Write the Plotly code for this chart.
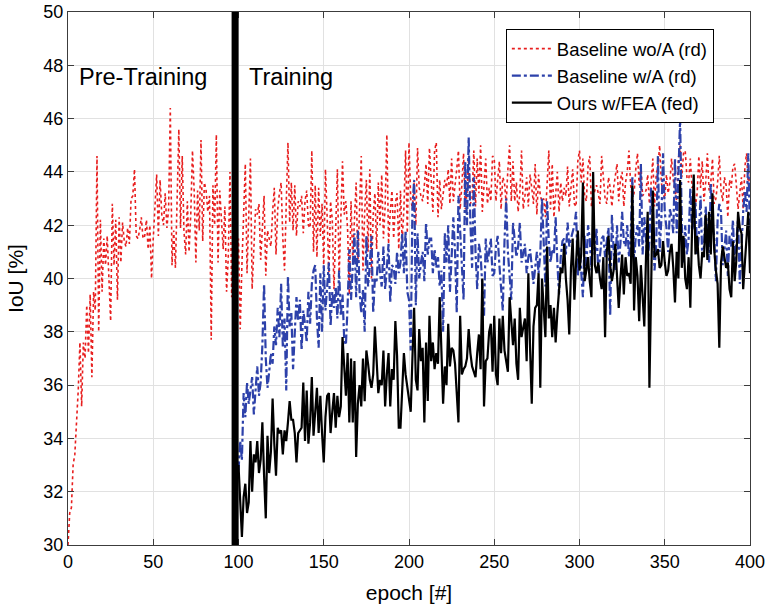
import plotly.graph_objects as go

# ---------------- data ----------------
red_epochs = list(range(0, 401))
red_iou = [
30.0,31.2,31.4,33.0,33.4,34.4,35.8,37.6,35.2,37.6,37.0,39.0,37.2,39.4,36.3,39.5,38.8,44.6,38.0,42.2,
39.5,41.5,40.5,41.6,40.0,38.4,42.8,40.5,42.2,39.2,42.3,40.6,42.1,41.4,41.2,41.9,41.3,43.0,43.1,44.1,
41.6,41.5,41.8,42.3,41.5,41.6,42.2,41.1,42.0,40.0,41.5,42.8,43.9,41.6,43.7,42.4,42.0,43.2,41.9,42.6,
46.4,40.5,41.8,40.4,43.0,45.6,41.9,44.6,41.8,40.9,42.9,41.0,42.4,44.8,43.3,40.6,43.3,41.8,45.2,41.4,
43.6,43.3,42.5,43.1,37.7,43.5,42.0,45.4,40.6,43.3,42.2,41.1,42.7,39.5,40.8,44.0,39.3,42.5,43.6,40.2,
41.5,38.1,40.5,42.8,44.3,40.2,42.6,44.5,39.6,41.5,42.6,42.4,42.8,40.7,42.0,43.1,40.1,41.8,41.5,41.2,
42.5,43.4,40.9,42.6,43.2,43.6,41.5,40.3,42.8,45.1,42.1,43.6,41.8,43.5,41.6,42.9,42.7,43.1,41.7,42.9,
43.3,42.0,41.9,44.8,41.0,43.5,40.8,43.4,41.6,42.8,40.4,44.1,42.3,40.1,42.9,42.2,39.6,41.8,44.1,40.0,
42.6,44.4,42.4,42.9,41.8,39.4,42.9,40.7,42.2,43.6,40.6,42.8,44.6,40.3,42.5,43.7,41.0,44.1,40.0,42.4,
43.2,41.1,43.6,42.0,43.9,41.5,42.7,45.4,41.3,42.5,43.3,41.5,42.8,43.2,41.1,43.3,41.4,42.6,44.8,41.7,
45.1,43.0,42.6,43.6,42.0,44.9,43.4,43.1,42.9,43.5,44.3,42.8,44.9,43.7,42.5,44.8,45.1,42.3,43.7,42.6,
43.2,43.7,43.4,44.1,42.8,44.5,42.9,43.4,44.1,44.8,42.6,43.5,44.7,42.6,43.2,44.6,42.8,43.0,44.8,42.7,
44.5,43.2,45.0,42.5,43.6,44.5,42.8,43.4,42.9,44.6,44.5,42.9,43.7,44.4,42.6,43.8,43.6,42.8,44.1,45.0,
42.9,44.4,42.9,43.6,42.5,43.2,44.8,42.6,43.1,43.8,42.7,43.9,43.4,42.8,44.3,42.4,43.9,43.1,42.9,43.0,
42.3,43.5,44.8,42.6,44.3,42.3,43.2,44.0,42.5,43.6,42.9,43.4,43.1,44.2,42.7,43.6,44.1,42.8,42.7,44.4,
44.8,43.6,44.5,43.1,42.9,44.2,44.6,42.7,43.1,43.3,43.5,43.2,42.8,44.6,43.6,43.0,42.8,43.8,43.4,42.7,
43.4,43.9,44.3,42.9,43.7,44.0,42.7,43.6,44.0,44.8,43.5,43.0,43.2,44.1,44.7,43.5,44.3,43.1,43.2,43.3,
43.9,42.8,43.6,44.5,42.7,43.9,44.2,45.0,43.6,43.2,43.0,43.9,43.2,43.6,44.5,43.7,43.3,42.9,44.5,45.0,
43.8,44.7,44.8,43.8,43.6,44.5,43.4,43.5,42.7,43.2,44.6,43.4,44.4,42.9,43.6,44.7,43.3,43.6,44.5,42.8,
43.0,43.6,44.6,43.3,42.9,43.8,43.5,42.3,43.7,43.4,44.2,44.3,43.5,42.6,43.2,43.8,42.6,44.2,44.7,43.5,
43.9]

train_epochs = list(range(100, 401))
blue_iou = [
32.8,33.9,33.2,35.7,34.8,36.1,35.3,35.8,36.3,34.9,36.0,36.7,35.6,36.1,37.5,39.8,37.0,35.9,36.5,37.2,
36.8,38.2,37.5,38.9,37.8,39.8,37.4,38.5,35.8,40.1,38.2,38.7,36.6,38.0,39.3,38.4,39.2,37.3,38.8,38.3,
37.6,39.5,38.3,39.8,40.3,40.5,38.5,37.4,40.2,38.0,40.5,38.8,39.6,40.6,38.2,39.5,38.9,39.7,38.5,40.3,
38.6,39.4,37.7,37.5,39.0,41.1,39.2,40.4,41.7,39.3,41.8,39.5,38.7,39.6,38.0,41.6,39.7,40.5,41.6,38.7,
40.0,39.9,41.0,40.2,39.7,41.2,39.6,40.4,41.3,39.1,40.5,40.4,39.8,41.0,40.2,40.6,41.7,40.2,41.8,39.5,
39.2,37.3,42.6,43.7,39.0,41.7,40.0,40.6,41.0,39.9,42.1,40.9,41.5,41.5,40.2,41.1,40.4,40.8,39.7,40.3,
38.0,41.7,40.6,42.0,39.5,40.8,42.3,41.0,38.7,43.1,41.7,40.1,39.2,44.4,42.0,45.3,42.1,40.4,43.8,41.0,
39.6,41.3,40.9,39.7,38.6,41.5,40.6,41.0,41.5,40.1,40.2,41.2,41.6,40.5,39.6,38.8,41.4,43.0,41.0,40.2,
39.2,42.1,41.4,40.8,41.2,42.1,40.6,41.0,41.3,40.2,40.8,41.1,40.4,39.8,40.4,41.0,40.2,40.9,43.0,41.6,
39.7,42.9,41.4,40.6,41.1,40.9,42.3,40.6,39.4,40.8,41.4,41.5,40.9,42.1,41.2,41.5,41.8,42.0,42.5,40.1,
41.2,40.4,39.3,41.6,40.3,42.0,41.5,40.3,41.7,40.9,41.9,40.2,41.0,41.5,41.6,40.8,41.4,41.9,38.6,42.4,
41.1,40.3,42.0,40.6,41.3,42.5,41.4,41.2,42.0,40.8,41.5,43.8,40.6,41.6,42.0,41.2,44.3,40.9,42.3,41.6,
40.7,41.4,43.4,42.1,40.3,41.3,44.6,41.0,42.2,44.7,42.5,41.9,41.0,42.6,42.3,41.7,44.5,41.7,43.5,46.0,
42.0,40.6,42.0,40.9,41.5,43.4,41.8,42.1,42.9,40.9,41.6,43.1,40.8,41.2,42.7,41.7,40.6,43.6,42.0,41.6,
39.9,42.2,42.8,42.5,40.5,41.1,41.8,40.1,41.6,41.2,42.2,40.4,41.5,42.3,39.8,41.4,42.5,43.3,42.5,44.7,
41.5]

black_iou = [
33.0,31.4,30.3,31.8,32.3,31.2,31.6,33.9,32.0,33.4,33.1,33.9,32.7,33.2,34.6,32.6,31.0,34.1,32.7,33.5,
35.5,33.8,32.6,34.4,34.2,34.3,33.4,34.3,33.9,34.6,35.4,34.7,34.7,34.2,33.1,34.2,34.3,34.4,36.1,33.9,
35.8,33.8,34.6,36.3,34.1,35.2,35.9,34.2,35.6,34.2,33.1,34.8,35.6,35.7,34.2,35.0,35.7,34.4,35.6,34.8,
35.2,37.8,36.6,35.6,37.2,34.6,37.0,34.6,36.9,33.3,35.3,36.0,35.2,37.0,35.4,37.3,36.8,36.2,35.9,36.4,
38.2,36.9,35.7,36.2,36.0,37.3,35.2,36.4,37.2,35.2,36.6,36.2,38.4,37.1,34.4,34.4,36.0,37.2,36.4,35.9,
35.4,35.0,37.0,38.9,36.2,35.8,38.1,36.9,37.4,34.6,37.6,35.4,38.6,36.9,37.6,36.6,37.2,36.8,39.3,36.9,
35.3,36.7,36.0,38.3,36.7,37.4,37.3,36.8,35.8,34.6,38.6,36.4,36.6,36.7,37.0,38.1,37.2,36.7,36.5,36.3,
37.2,37.9,36.6,40.0,35.2,36.9,37.0,38.0,38.3,36.5,38.6,36.4,36.0,38.5,37.2,38.6,37.3,36.8,36.5,39.3,
38.3,37.5,38.5,36.8,36.2,38.9,37.8,38.2,38.5,36.9,40.2,37.4,35.3,38.2,38.9,39.0,40.2,35.9,40.0,38.9,
37.8,41.2,38.5,39.0,37.8,38.9,37.6,38.7,39.4,40.4,40.2,41.3,40.0,39.2,37.9,40.4,41.5,39.2,40.6,41.8,
40.3,40.9,43.6,39.9,40.3,40.8,39.9,39.3,44.0,40.5,40.2,40.6,40.0,39.6,40.8,37.8,41.0,41.6,40.5,39.9,
40.3,41.3,40.1,38.9,40.0,40.9,39.4,40.8,40.1,40.2,39.8,43.5,38.8,40.8,40.1,38.4,40.5,39.5,38.2,40.8,
42.5,35.9,40.2,43.3,40.8,40.9,41.1,40.4,40.5,41.4,40.6,40.1,40.3,41.0,41.3,40.4,39.1,41.0,40.0,43.7,
40.4,41.6,40.0,39.6,40.8,38.9,41.8,43.9,40.9,41.6,40.5,40.0,41.0,40.8,42.4,40.7,42.5,40.9,43.2,41.1,
40.3,39.8,37.4,40.6,41.2,40.7,40.4,40.6,39.6,39.3,41.4,39.9,40.7,42.5,41.9,41.7,39.6,40.6,41.6,42.5,
40.2]

series_names = ["Baseline wo/A (rd)", "Baseline w/A (rd)", "Ours w/FEA (fed)"]
phase_boundary = 98
phase_labels = ["Pre-Training", "Training"]
x_ticks = [0, 50, 100, 150, 200, 250, 300, 350, 400]
y_ticks = [30, 32, 34, 36, 38, 40, 42, 44, 46, 48, 50]

FONT = "Liberation Sans, Arial, Helvetica, sans-serif"

fig = go.Figure()
fig.add_trace(go.Scatter(x=red_epochs, y=red_iou, mode="lines", name=series_names[0],
                         line=dict(color="rgb(232,30,30)", width=1.6, dash="dot")))
fig.add_trace(go.Scatter(x=train_epochs, y=blue_iou, mode="lines", name=series_names[1],
                         line=dict(color="rgb(45,65,170)", width=2.2, dash="dashdot")))
fig.add_trace(go.Scatter(x=train_epochs, y=black_iou, mode="lines", name=series_names[2],
                         line=dict(color="black", width=2.2)))

fig.add_shape(type="line", xref="x", yref="y", x0=phase_boundary, x1=phase_boundary,
              y0=30, y1=50, line=dict(color="black", width=7), layer="above")

fig.add_annotation(x=5, y=47.55, xref="x", yref="y", text=phase_labels[0], showarrow=False,
                   xanchor="left", yanchor="middle", font=dict(size=23.5, color="black", family=FONT))
fig.add_annotation(x=105, y=47.55, xref="x", yref="y", text=phase_labels[1], showarrow=False,
                   xanchor="left", yanchor="middle", font=dict(size=23.5, color="black", family=FONT))

axis_common = dict(showgrid=True, gridcolor="rgb(225,225,225)", gridwidth=1,
                   showline=True, linecolor="rgb(60,60,60)", linewidth=1, mirror="allticks",
                   ticks="inside", ticklen=6, tickcolor="rgb(60,60,60)", zeroline=False,
                   automargin=False,
                   tickfont=dict(size=18, color="black", family=FONT))

fig.update_xaxes(range=[0, 400], tickvals=x_ticks, title=dict(text="epoch [#]", standoff=14,
                 font=dict(size=21, color="black", family=FONT)), **axis_common)
fig.update_yaxes(range=[30, 50], tickvals=y_ticks, title=dict(text="IoU [%]", standoff=14,
                 font=dict(size=21, color="black", family=FONT)), **axis_common)

fig.update_layout(
    width=766, height=610,
    margin=dict(l=68, r=16, t=12, b=65),
    paper_bgcolor="white", plot_bgcolor="white",
    font=dict(family=FONT, color="black"),
    legend=dict(x=0.642, y=0.968, xanchor="left", yanchor="top",
                bgcolor="white", bordercolor="black", borderwidth=1,
                font=dict(size=18.5, color="black", family=FONT),
                tracegroupgap=0, itemwidth=40),
)

# remove the default page margin so the figure sits at the window's top-left corner
fig.write_html("out.html",
               config={"displayModeBar": False},
               post_script="document.body.style.margin='0';document.body.style.overflow='hidden';")
